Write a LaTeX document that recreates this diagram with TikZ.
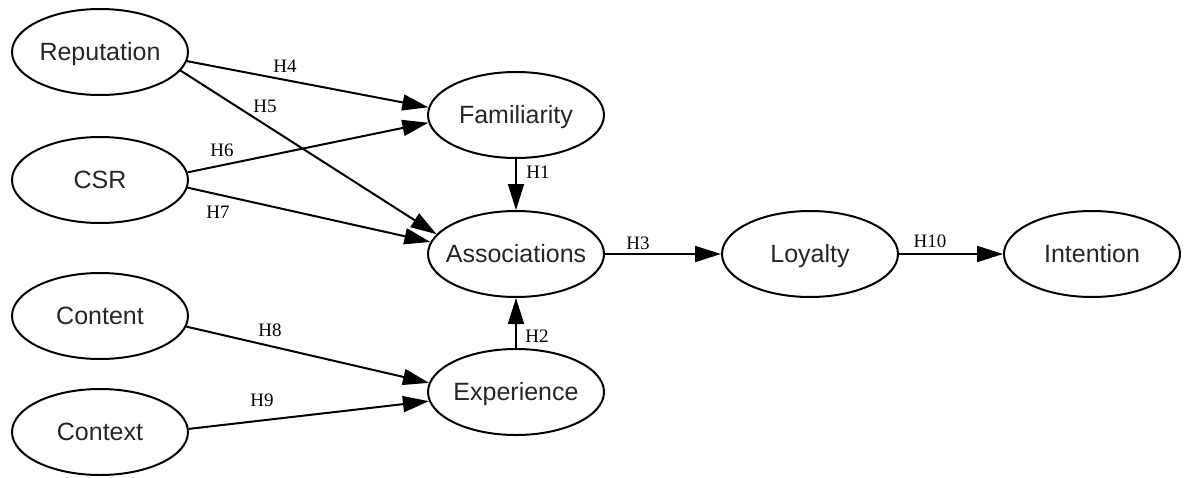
\documentclass[tikz,border=0pt]{standalone}
\usepackage{fontspec}
\setmainfont{Liberation Serif}
\newfontfamily\nodefont{Liberation Sans}
\usetikzlibrary{shapes.geometric,arrows.meta}
\begin{document}
\begin{tikzpicture}[x=0.5pt,y=-0.5pt,
  var/.style={ellipse,draw,line width=1pt,minimum width=88pt,minimum height=43pt,inner xsep=-30pt,inner ysep=0pt,text height=10.8pt,text depth=2.6pt,font=\nodefont\fontsize{12.5}{14}\selectfont,text=black!85},
  link/.style={draw,line width=1pt,-{Triangle[length=13pt,width=8pt]}},
  lbl/.style={font=\fontsize{9.5}{11}\selectfont,inner sep=0pt}]
\useasboundingbox (0,0) rectangle (1184,477);
\node[var] (rep) at (100,52) {Reputation};
\node[var] (csr) at (100,180) {CSR};
\node[var] (con) at (100,316) {Content};
\node[var] (ctx) at (100,432) {Context};
\node[var] (fam) at (516,115) {Familiarity};
\node[var] (ass) at (516,254) {Associations};
\node[var] (exp) at (516,392) {Experience};
\node[var] (loy) at (810,254) {Loyalty};
\node[var] (int) at (1092,254) {Intention};
\draw[link] (rep.-6) -- (fam.175);
\draw[link] (rep.-13) -- (ass.166);
\draw[link] (csr.5) -- (fam.185);
\draw[link] (csr.-5) -- (ass.172);
\draw[link] (fam) -- (ass);
\draw[link] (exp) -- (ass);
\draw[link] (ass) -- (loy);
\draw[link] (loy) -- (int);
\draw[link] (con.-7) -- (exp.174);
\draw[link] (ctx.2) -- (exp.186);
\node[lbl] (l4) at (285,66) {H4};
\node[lbl] (l5) at (265,106) {H5};
\node[lbl] (l6) at (222,150) {H6};
\node[lbl] (l7) at (218,212) {H7};
\node[lbl] (l1) at (538,172) {H1};
\node[lbl] (l2) at (537,336) {H2};
\node[lbl] (l3) at (638,243) {H3};
\node[lbl] (l10) at (930,241) {H10};
\node[lbl] (l8) at (270,330) {H8};
\node[lbl] (l9) at (262,400) {H9};
\end{tikzpicture}
\end{document}
